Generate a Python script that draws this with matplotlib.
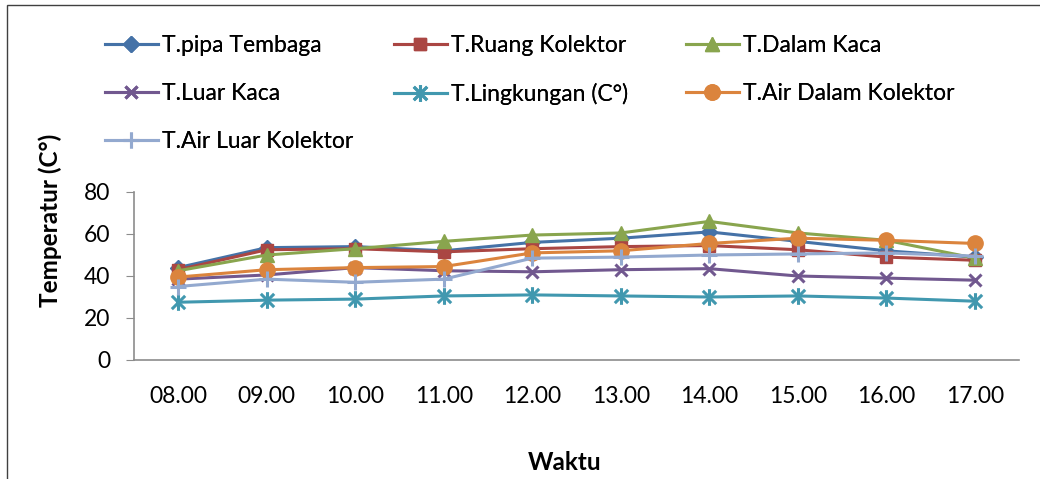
import numpy as np
import matplotlib.pyplot as plt
from matplotlib.path import Path
from matplotlib.patches import Rectangle

plt.rcParams['font.family'] = ['Lato', 'DejaVu Sans']

waktu = ['08.00', '09.00', '10.00', '11.00', '12.00',
         '13.00', '14.00', '15.00', '16.00', '17.00']

pipa_tembaga = [44.0, 53.5, 54.0, 52.0, 56.0, 58.0, 61.0, 56.5, 52.0, 49.0]
ruang_kolektor = [43.0, 52.5, 53.0, 51.5, 53.0, 54.0, 54.5, 52.5, 49.0, 47.5]
dalam_kaca = [42.5, 50.0, 53.0, 56.5, 59.5, 60.5, 66.0, 60.5, 57.0, 48.5]
luar_kaca = [38.5, 40.5, 44.0, 42.5, 42.0, 43.0, 43.5, 40.0, 39.0, 38.0]
lingkungan = [27.5, 28.5, 29.0, 30.5, 31.0, 30.5, 30.0, 30.5, 29.5, 28.0]
air_dalam = [39.5, 43.0, 44.0, 44.5, 51.0, 52.0, 55.5, 58.0, 57.0, 55.5]
air_luar = [35.0, 38.5, 37.0, 38.5, 48.5, 49.0, 50.0, 50.5, 51.0, 49.5]

# excel style star: an x crossed by a vertical stroke
star = Path([(-1, -1), (1, 1), (-1, 1), (1, -1), (0, -1.25), (0, 1.25)],
            [Path.MOVETO, Path.LINETO, Path.MOVETO, Path.LINETO,
             Path.MOVETO, Path.LINETO])

series = [
    ('T.pipa Tembaga', pipa_tembaga, '#4572A7', 'D', 8),
    ('T.Ruang Kolektor', ruang_kolektor, '#AA4643', 's', 9),
    ('T.Dalam Kaca', dalam_kaca, '#89A54E', '^', 10),
    ('T.Luar Kaca', luar_kaca, '#71588F', 'x', 9),
    ('T.Lingkungan (C°)', lingkungan, '#4198AF', star, 12),
    ('T.Air Dalam Kolektor', air_dalam, '#DB843D', 'o', 11),
    ('T.Air Luar Kolektor', air_luar, '#93A9CF', '+', 12),
]

fig = plt.figure(figsize=(10.4, 4.79), dpi=100)
ax = fig.add_axes([134/1040, 119/479, 885/1040, 168/479])

x = np.arange(len(waktu))
lines = []
for name, vals, col, mk, ms in series:
    filled = mk in ('D', 's', '^', 'o')
    ln, = ax.plot(x, vals, color=col, lw=2.2, marker=mk, markersize=ms,
                  markerfacecolor=col, markeredgecolor=col,
                  markeredgewidth=1 if filled else 2.2, label=name)
    lines.append(ln)

ax.set_xlim(-0.5, len(waktu) - 0.5)
ax.set_ylim(0, 80)
ax.set_yticks(range(0, 81, 20))
ax.set_xticks(x)
ax.set_xticklabels(waktu)
for s in ['top', 'right']:
    ax.spines[s].set_visible(False)
for s in ['left', 'bottom']:
    ax.spines[s].set_color('#8C8C8C')
    ax.spines[s].set_linewidth(1.2)
ax.tick_params(axis='y', direction='out', length=6, color='#8C8C8C',
               labelsize=16.5, pad=11)
ax.tick_params(axis='x', length=0, labelsize=16.5, pad=19)

fig.text(50/1040, 1 - 220/479, 'Temperatur (C°)', rotation=90,
         ha='center', va='center', fontsize=17.5, fontweight='bold')
fig.text(565/1040, 1 - 462/479, 'Waktu', ha='center', va='center',
         fontsize=17.5, fontweight='bold')

# legend laid out as three separate columns
columns = [([0, 3, 6], 105), ([1, 4], 394), ([2, 5], 686)]
for idx, xpos in columns:
    leg = fig.legend([lines[i] for i in idx], [series[i][0] for i in idx],
                     loc='upper left', bbox_to_anchor=(xpos/1040, 1 - 35/479),
                     frameon=False, fontsize=16.5, handlelength=2.3,
                     handletextpad=0.2, labelspacing=1.17, borderpad=0,
                     borderaxespad=0)
    fig.add_artist(leg)

fig.add_artist(Rectangle((7/1040, -0.05), 1.1, 1 - 5/479 + 0.05,
                         transform=fig.transFigure, fill=False,
                         edgecolor='#404040', lw=1))

fig.savefig('out.png', dpi=100)
